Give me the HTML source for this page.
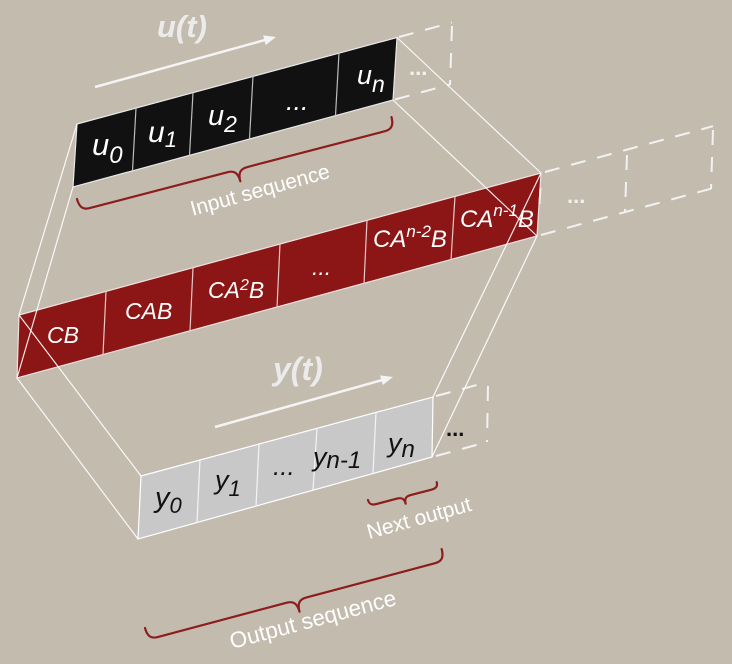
<!DOCTYPE html>
<html>
<head>
<meta charset="utf-8">
<style>
  html,body{margin:0;padding:0;background:#c4bbaf;}
  svg{display:block;}
  text{font-family:"Liberation Sans",Arial,sans-serif;}
</style>
</head>
<body>
<svg width="732" height="664" viewBox="0 0 732 664" xmlns="http://www.w3.org/2000/svg">
  <rect x="0" y="0" width="732" height="664" fill="#c4bbaf"/>

  <!-- ========== INPUT (black) BAR ========== -->
  <polygon points="77,124 397,37.5 393,100 73,187" fill="#111111" stroke="#e8e8e8" stroke-width="1.2"/>
  <g stroke="#bdbdbd" stroke-width="1.2">
    <line x1="136" y1="108" x2="132.5" y2="170.8"/>
    <line x1="193" y1="92.7" x2="189.5" y2="155.3"/>
    <line x1="253" y1="76.1" x2="249.5" y2="139"/>
    <line x1="339" y1="52.8" x2="335.5" y2="115.6"/>
  </g>
  <!-- dashed extension -->
  <g stroke="#f2f2f2" stroke-width="2" stroke-dasharray="15 12" fill="none">
    <line x1="399" y1="37" x2="452" y2="22.5"/>
    <line x1="452" y1="26" x2="450" y2="85"/>
    <line x1="395" y1="99.5" x2="450" y2="84.5"/>
  </g>
  <text x="409" y="75" font-size="22" fill="#f2f2f2" font-weight="bold">...</text>

  <!-- ========== RED BAR ========== -->
  <polygon points="19,315 541,173 537,236 17,378" fill="#8c1616" stroke="#f0e0e0" stroke-width="1.2"/>
  <g stroke="#e8c8c8" stroke-width="1.2">
    <line x1="106" y1="291.3" x2="103" y2="354.6"/>
    <line x1="193" y1="267.7" x2="190" y2="331"/>
    <line x1="280" y1="244" x2="277" y2="307.3"/>
    <line x1="367" y1="220.3" x2="364" y2="283.6"/>
    <line x1="455" y1="196.4" x2="451" y2="260"/>
  </g>
  <line x1="540.5" y1="188" x2="539.5" y2="204" stroke="#f2f2f2" stroke-width="2"/>
  <!-- dashed extension -->
  <g stroke="#f2f2f2" stroke-width="2" stroke-dasharray="15 12" fill="none">
    <line x1="545" y1="172" x2="713" y2="126.2"/>
    <line x1="713" y1="130" x2="711" y2="189"/>
    <line x1="541" y1="235" x2="711" y2="188.7"/>
    <line x1="627" y1="155" x2="625" y2="212"/>
  </g>
  <text x="567" y="203" font-size="22" fill="#f2f2f2" font-weight="bold">...</text>

  <!-- ========== OUTPUT (grey) BAR ========== -->
  <polygon points="141,476 433,397 432,457 138,539" fill="#c8c8c8" stroke="#ffffff" stroke-width="1.2"/>
  <g stroke="#f4f4f4" stroke-width="1.2">
    <line x1="200" y1="460" x2="197" y2="522.5"/>
    <line x1="259" y1="444.1" x2="256" y2="506.1"/>
    <line x1="317" y1="428.4" x2="313" y2="490.2"/>
    <line x1="376" y1="412.4" x2="373" y2="473.4"/>
  </g>
  <!-- dashed extension -->
  <g stroke="#f2f2f2" stroke-width="2" stroke-dasharray="15 12" fill="none">
    <line x1="436" y1="396" x2="488" y2="382"/>
    <line x1="488" y1="386" x2="487" y2="442"/>
    <line x1="436" y1="456" x2="487" y2="442"/>
  </g>
  <text x="446" y="436" font-size="22" fill="#111" font-weight="bold">...</text>

  <!-- ========== LABELS ========== -->
  <!-- input -->
  <g font-style="italic" fill="#ffffff">
    <text x="92" y="155" font-size="31">u<tspan font-size="24" dy="8">0</tspan></text>
    <text x="148" y="142" font-size="30">u<tspan font-size="22" dy="5">1</tspan></text>
    <text x="208" y="125" font-size="29">u<tspan font-size="23" dy="7">2</tspan></text>
    <text x="286" y="110" font-size="27">...</text>
    <text x="357" y="84" font-size="27">u<tspan font-size="23" dy="8">n</tspan></text>
  </g>
  <!-- red -->
  <g font-style="italic" fill="#ffffff">
    <text x="47" y="343" font-size="23">CB</text>
    <text x="125" y="319" font-size="23">CAB</text>
    <text x="208" y="298" font-size="23">CA<tspan font-size="16" dy="-8">2</tspan><tspan dy="8">B</tspan></text>
    <text x="312" y="275" font-size="23">...</text>
    <text x="373" y="247" font-size="24">CA<tspan font-size="17" dy="-10">n-2</tspan><tspan dy="10">B</tspan></text>
    <text x="460" y="227" font-size="24">CA<tspan font-size="17" dy="-11">n-1</tspan><tspan dy="11">B</tspan></text>
  </g>
  <!-- output -->
  <g font-style="italic" fill="#111111">
    <text x="155" y="507" font-size="29">y<tspan font-size="22" dy="6">0</tspan></text>
    <text x="215" y="489" font-size="27">y<tspan font-size="22" dy="7">1</tspan></text>
    <text x="273" y="475" font-size="26">...</text>
    <text x="313" y="466" font-size="27">y<tspan font-size="24" dy="2">n-1</tspan></text>
    <text x="388" y="452" font-size="27">y<tspan font-size="24" dy="5">n</tspan></text>
  </g>

  <!-- ========== PERSPECTIVE LINES ========== -->
  <g stroke="#ffffff" stroke-opacity="0.9" stroke-width="1.2">
    <line x1="77" y1="124" x2="19" y2="315"/>
    <line x1="73" y1="187" x2="17" y2="378"/>
    <line x1="397" y1="37.5" x2="541" y2="173"/>
    <line x1="393" y1="100" x2="537" y2="236"/>
    <line x1="19" y1="315" x2="141" y2="476"/>
    <line x1="17" y1="378" x2="138" y2="539"/>
    <line x1="541" y1="173" x2="433" y2="397"/>
    <line x1="537" y1="236" x2="432" y2="457"/>
  </g>

  <!-- ========== ARROWS & TITLES ========== -->
  <line x1="95" y1="87" x2="266" y2="39.7" stroke="#f4f4f4" stroke-width="2.5"/>
  <polygon points="276,37 265.7,45 263.1,35.4" fill="#f4f4f4"/>
  <text x="157" y="37" font-size="31" font-weight="bold" font-style="italic" fill="#ebebeb">u(t)</text>

  <line x1="215" y1="427" x2="383" y2="379.8" stroke="#f4f4f4" stroke-width="2.5"/>
  <polygon points="393,377 382.8,385 380,375.4" fill="#f4f4f4"/>
  <text x="273" y="380" font-size="32" font-weight="bold" font-style="italic" fill="#ebebeb">y(t)</text>

  <!-- ========== BRACES ========== -->
  <g fill="none" stroke="#8c1d1d" stroke-width="2.2" stroke-linecap="round" stroke-linejoin="round">
    <path transform="translate(77,199) rotate(-14.6)" d="M0,0 C0,8.4 3,12 10,12 L152.5,12 C159.5,12 162.5,15.6 162.5,24 C162.5,15.6 165.5,12 172.5,12 L315,12 C322,12 325,8.4 325,0"/>
    <path transform="translate(145,628) rotate(-14.9)" d="M0,0 C0,8.4 3,12 10,12 L143.5,12 C150.5,12 153.5,15.6 153.5,24 C153.5,15.6 156.5,12 163.5,12 L297,12 C304,12 307,8.4 307,0"/>
    <path transform="translate(368,500) rotate(-14.6)" d="M0,0 C0,4 2,6 7,6 L28.5,6 C33.5,6 35.5,8 35.5,13 C35.5,8 37.5,6 42.5,6 L64,6 C69,6 71,4 71,0"/>
  </g>

  <!-- ========== BRACE LABELS ========== -->
  <g fill="#ffffff" text-anchor="middle">
    <text transform="translate(260,190) rotate(-15.5)" x="0" y="7" font-size="21">Input sequence</text>
    <text transform="translate(313,620) rotate(-15)" x="0" y="7" font-size="22.5">Output sequence</text>
    <text transform="translate(419,518) rotate(-15.5)" x="0" y="7" font-size="21">Next output</text>
  </g>
</svg>
</body>
</html>
